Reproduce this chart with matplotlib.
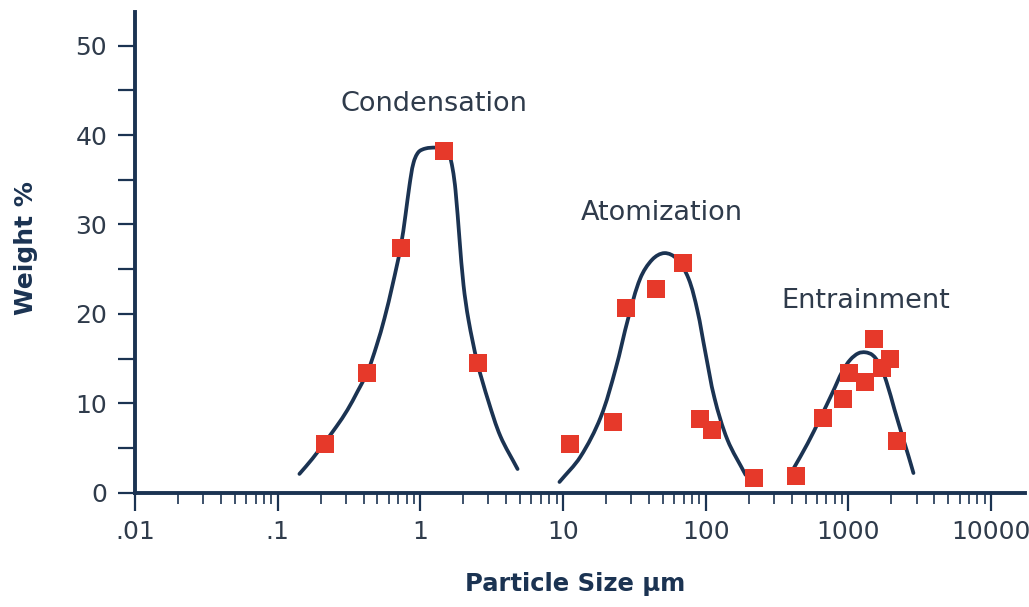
import numpy as np
import matplotlib
matplotlib.use("Agg")
import matplotlib.pyplot as plt
from matplotlib.path import Path
from matplotlib.patches import PathPatch
from matplotlib.ticker import FixedLocator, NullFormatter

# ---- data ----
cond_x = [0.213, 0.424, 0.726, 1.46, 2.52]
cond_y = [5.5, 13.4, 27.4, 38.2, 14.5]
atom_x = [11.1, 22.4, 27.7, 44.9, 69.5, 90.8, 110, 217]
atom_y = [5.5, 7.9, 20.7, 22.8, 25.7, 8.2, 7.0, 1.6]
entr_x = [432, 665, 919, 1005, 1315, 1506, 1722, 1950, 2195]
entr_y = [1.9, 8.4, 10.5, 13.4, 12.4, 17.2, 13.9, 15.0, 5.8]

# fitted curves
cond_curve_x = [0.142, 0.175, 0.213, 0.258, 0.308, 0.362, 0.426, 0.492, 0.560, 0.637,
                0.726, 0.787, 0.839, 0.895, 0.970, 1.087, 1.277, 1.453, 1.575, 1.679,
                1.763, 1.881, 2.006, 2.175, 2.512, 3.001, 3.641, 4.797]
cond_curve_y = [2.1, 3.8, 5.6, 7.4, 9.25, 11.3, 13.5, 16.4, 19.5, 23.2,
                27.4, 31.1, 34.4, 36.9, 38.1, 38.5, 38.6, 38.5, 38.0, 36.3,
                33.8, 28.3, 23.2, 19.3, 14.5, 10.2, 6.3, 2.65]
atom_curve_x = [9.43, 13.2, 18.3, 23.3, 28.7, 34.8, 42.3, 51.3, 62.2, 75.5,
                87.3, 99.3, 115, 142, 190]
atom_curve_y = [1.2, 4.0, 8.4, 13.8, 19.6, 24.0, 26.1, 26.8, 26.2, 24.0,
                20.4, 15.7, 10.6, 5.9, 2.0]
entr_curve_x = [412, 517, 637, 773, 908, 1033, 1175, 1315, 1472, 1648,
                1846, 2101, 2390, 2633, 2852]
entr_curve_y = [2.7, 5.5, 8.4, 11.2, 13.6, 14.9, 15.6, 15.7, 15.4, 14.4,
                12.4, 9.3, 6.3, 4.1, 2.2]

group_labels = ["Condensation", "Atomization", "Entrainment"]
label_x = [1.24, 49.0, 1315]
label_y = [42.7, 30.5, 20.7]

y_ticks = [0, 10, 20, 30, 40, 50]
y_minor = [5, 15, 25, 35, 45]
x_ticks = [0.01, 0.1, 1, 10, 100, 1000, 10000]
x_ticklabels = [".01", ".1", "1", "10", "100", "1000", "10000"]

NAVY = "#1b3352"
RED = "#e6392a"
TXT = "#2f3b4b"


def smooth_path(ax, xs, ys):
    """Smooth Bezier curve through the traced points (built in display space)."""
    P = ax.transData.transform(np.column_stack([xs, ys]))
    n = len(P)
    T = np.zeros_like(P)
    for i in range(n):
        a = P[max(i - 1, 0)]
        b = P[min(i + 1, n - 1)]
        d = b - a
        T[i] = d / np.hypot(*d)
    verts = [P[0]]
    codes = [Path.MOVETO]
    for i in range(n - 1):
        L = np.hypot(*(P[i + 1] - P[i]))
        verts += [P[i] + T[i] * L / 3.0, P[i + 1] - T[i + 1] * L / 3.0, P[i + 1]]
        codes += [Path.CURVE4] * 3
    V = ax.transData.inverted().transform(np.array(verts))
    return Path(V, codes)


fig = plt.figure(figsize=(10.29, 6.07), dpi=100)
ax = fig.add_axes([135 / 1029, 1 - 492.7 / 607, 890 / 1029, 481 / 607])
ax.set_xscale("log")
ax.set_xlim(0.01, 10 ** 4.237)
ax.set_ylim(0, 53.8)

for cx, cy in [(cond_curve_x, cond_curve_y), (atom_curve_x, atom_curve_y),
               (entr_curve_x, entr_curve_y)]:
    patch = PathPatch(smooth_path(ax, cx, cy), facecolor="none", edgecolor=NAVY,
                      lw=2.7, capstyle="round", joinstyle="round", zorder=3)
    ax.add_patch(patch)

for px, py in [(cond_x, cond_y), (atom_x, atom_y), (entr_x, entr_y)]:
    ax.plot(px, py, ls="none", marker="s", ms=13.5, mfc=RED, mec=RED, mew=0,
            zorder=4, clip_on=False)

for t, lx_, ly_ in zip(group_labels, label_x, label_y):
    ax.text(lx_, ly_, t, ha="center", va="baseline", fontsize=19.5, color=TXT,
            family="DejaVu Sans")

for s in ["top", "right"]:
    ax.spines[s].set_visible(False)
for s in ["left", "bottom"]:
    ax.spines[s].set_color(NAVY)
    ax.spines[s].set_linewidth(2.8)

ax.yaxis.set_major_locator(FixedLocator(y_ticks))
ax.yaxis.set_minor_locator(FixedLocator(y_minor))
ax.yaxis.set_minor_formatter(NullFormatter())
ax.set_yticklabels([str(v) for v in y_ticks])
ax.tick_params(axis="y", which="both", direction="out", length=12, width=1.6,
               color=NAVY, labelsize=18, labelcolor=TXT, pad=8)

ax.set_xticks(x_ticks)
ax.set_xticklabels(x_ticklabels)
ax.tick_params(axis="x", which="major", direction="out", length=13, width=1.6,
               color=NAVY, labelsize=18, labelcolor=TXT, pad=7)
ax.tick_params(axis="x", which="minor", direction="out", length=8, width=1.2,
               color=NAVY)

ax.set_xlabel("Particle Size μm", fontsize=17.5, fontweight="bold", color=NAVY)
ax.xaxis.set_label_coords(0.494, -0.165)
ax.set_ylabel("Weight %", fontsize=18, fontweight="bold", color=NAVY)
ax.yaxis.set_label_coords(-0.109, 0.508)

fig.savefig("out.png", dpi=100, facecolor="white")
